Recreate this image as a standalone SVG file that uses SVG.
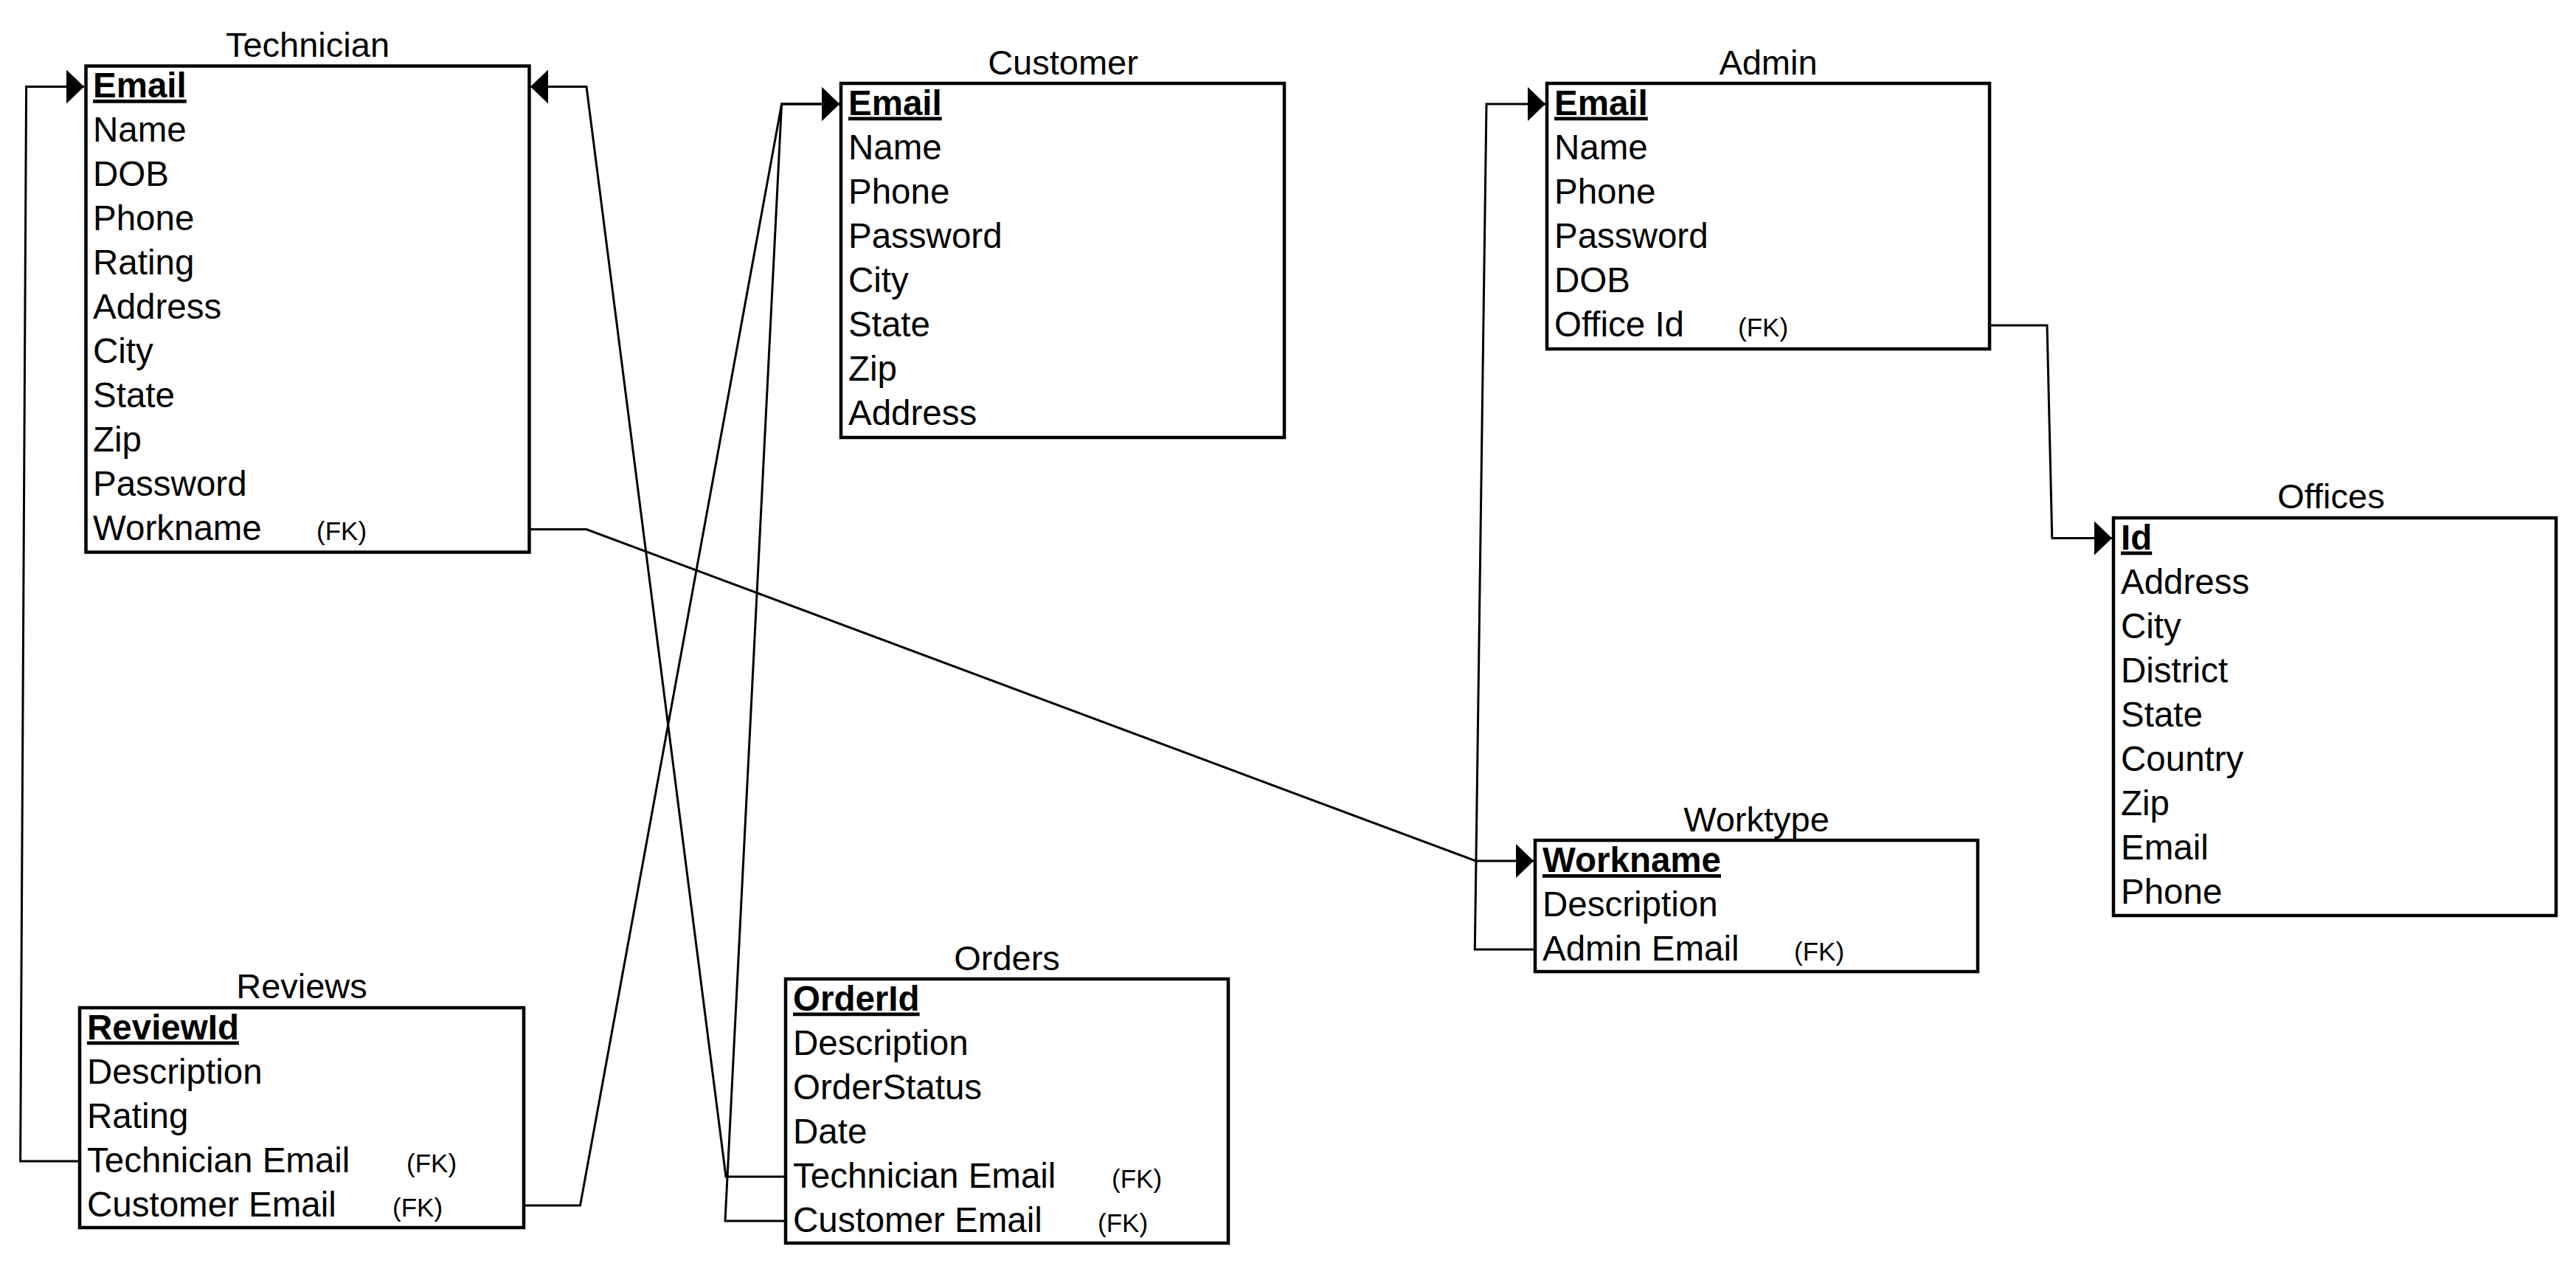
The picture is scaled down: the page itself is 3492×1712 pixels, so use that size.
<svg xmlns="http://www.w3.org/2000/svg" width="3492" height="1712" viewBox="0 0 3492 1712">
<style>
text{font-family:"Liberation Sans",Arial,sans-serif;fill:#000}
.t{font-size:47px;text-anchor:middle}
.f{font-size:47.5px}
.pk{font-size:47.5px;font-weight:bold;text-decoration:underline}
.fk{font-size:35px}
.box{fill:#fff;stroke:#000;stroke-width:4.5}
.c{fill:none;stroke:#000;stroke-width:3;stroke-linejoin:miter}
</style>
<defs>
<marker id="arr" viewBox="0 0 24 46" markerWidth="24" markerHeight="46" refX="24" refY="23" orient="auto" markerUnits="userSpaceOnUse">
<path d="M0,0 L24,23 L0,46 Z" fill="#000"/>
</marker>
</defs>
<rect width="3492" height="1712" fill="#fff"/>
<g id="connectors">
<path class="c" d="M108,1574 L27.6,1574 L35.6,117.5 L114,117.5" marker-end="url(#arr)"/>
<path class="c" d="M1065,1595 L984,1595 L795,117.5 L719,117.5" marker-end="url(#arr)"/>
<path class="c" d="M710,1634 L786.5,1634 L1059.6,141 L1138,141" marker-end="url(#arr)"/>
<path class="c" d="M1065,1655 L983,1655 L1059.6,141 L1138,141" marker-end="url(#arr)"/>
<path class="c" d="M717.6,717.5 L795,717.5 L2000.5,1167 L2079,1167" marker-end="url(#arr)"/>
<path class="c" d="M2081,1287 L1999.3,1287 L2015,141 L2095,141" marker-end="url(#arr)"/>
<path class="c" d="M2697,441 L2775,441 L2781.8,729.5 L2863,729.5" marker-end="url(#arr)"/>
</g>
<g id="technician">
<text class="t" x="417" y="77">Technician</text>
<rect class="box" x="116.5" y="89.5" width="601" height="659"/>
<text class="pk" x="126" y="132">Email</text>
<text class="f" x="126" y="192">Name</text>
<text class="f" x="126" y="252">DOB</text>
<text class="f" x="126" y="312">Phone</text>
<text class="f" x="126" y="372">Rating</text>
<text class="f" x="126" y="432">Address</text>
<text class="f" x="126" y="492">City</text>
<text class="f" x="126" y="552">State</text>
<text class="f" x="126" y="612">Zip</text>
<text class="f" x="126" y="672">Password</text>
<text class="f" x="126" y="732">Workname</text>
<text class="fk" x="429" y="732">(FK)</text>
</g>
<g id="customer">
<text class="t" x="1441" y="101">Customer</text>
<rect class="box" x="1140" y="113" width="601" height="480"/>
<text class="pk" x="1150" y="155.5">Email</text>
<text class="f" x="1150" y="215.5">Name</text>
<text class="f" x="1150" y="275.5">Phone</text>
<text class="f" x="1150" y="335.5">Password</text>
<text class="f" x="1150" y="395.5">City</text>
<text class="f" x="1150" y="455.5">State</text>
<text class="f" x="1150" y="515.5">Zip</text>
<text class="f" x="1150" y="575.5">Address</text>
</g>
<g id="admin">
<text class="t" x="2397" y="101">Admin</text>
<rect class="box" x="2097" y="113" width="600" height="360"/>
<text class="pk" x="2107" y="155.5">Email</text>
<text class="f" x="2107" y="215.5">Name</text>
<text class="f" x="2107" y="275.5">Phone</text>
<text class="f" x="2107" y="335.5">Password</text>
<text class="f" x="2107" y="395.5">DOB</text>
<text class="f" x="2107" y="455.5">Office Id</text>
<text class="fk" x="2356" y="455.5">(FK)</text>
</g>
<g id="offices">
<text class="t" x="3160" y="689">Offices</text>
<rect class="box" x="2865" y="702" width="600" height="539"/>
<text class="pk" x="2875" y="744.5">Id</text>
<text class="f" x="2875" y="804.5">Address</text>
<text class="f" x="2875" y="864.5">City</text>
<text class="f" x="2875" y="924.5">District</text>
<text class="f" x="2875" y="984.5">State</text>
<text class="f" x="2875" y="1044.5">Country</text>
<text class="f" x="2875" y="1104.5">Zip</text>
<text class="f" x="2875" y="1164.5">Email</text>
<text class="f" x="2875" y="1224.5">Phone</text>
</g>
<g id="worktype">
<text class="t" x="2381" y="1126.5">Worktype</text>
<rect class="box" x="2081" y="1139" width="600" height="178"/>
<text class="pk" x="2091" y="1182">Workname</text>
<text class="f" x="2091" y="1242">Description</text>
<text class="f" x="2091" y="1302">Admin Email</text>
<text class="fk" x="2432" y="1302">(FK)</text>
</g>
<g id="reviews">
<text class="t" x="409" y="1353">Reviews</text>
<rect class="box" x="108" y="1366" width="602" height="298"/>
<text class="pk" x="118" y="1408.5">ReviewId</text>
<text class="f" x="118" y="1468.5">Description</text>
<text class="f" x="118" y="1528.5">Rating</text>
<text class="f" x="118" y="1588.5">Technician Email</text>
<text class="fk" x="551" y="1588.5">(FK)</text>
<text class="f" x="118" y="1648.5">Customer Email</text>
<text class="fk" x="532" y="1648.5">(FK)</text>
</g>
<g id="orders">
<text class="t" x="1365" y="1315">Orders</text>
<rect class="box" x="1065" y="1327" width="600" height="358"/>
<text class="pk" x="1075" y="1369.5">OrderId</text>
<text class="f" x="1075" y="1429.5">Description</text>
<text class="f" x="1075" y="1489.5">OrderStatus</text>
<text class="f" x="1075" y="1549.5">Date</text>
<text class="f" x="1075" y="1609.5">Technician Email</text>
<text class="fk" x="1507" y="1609.5">(FK)</text>
<text class="f" x="1075" y="1669.5">Customer Email</text>
<text class="fk" x="1488" y="1669.5">(FK)</text>
</g>
</svg>
